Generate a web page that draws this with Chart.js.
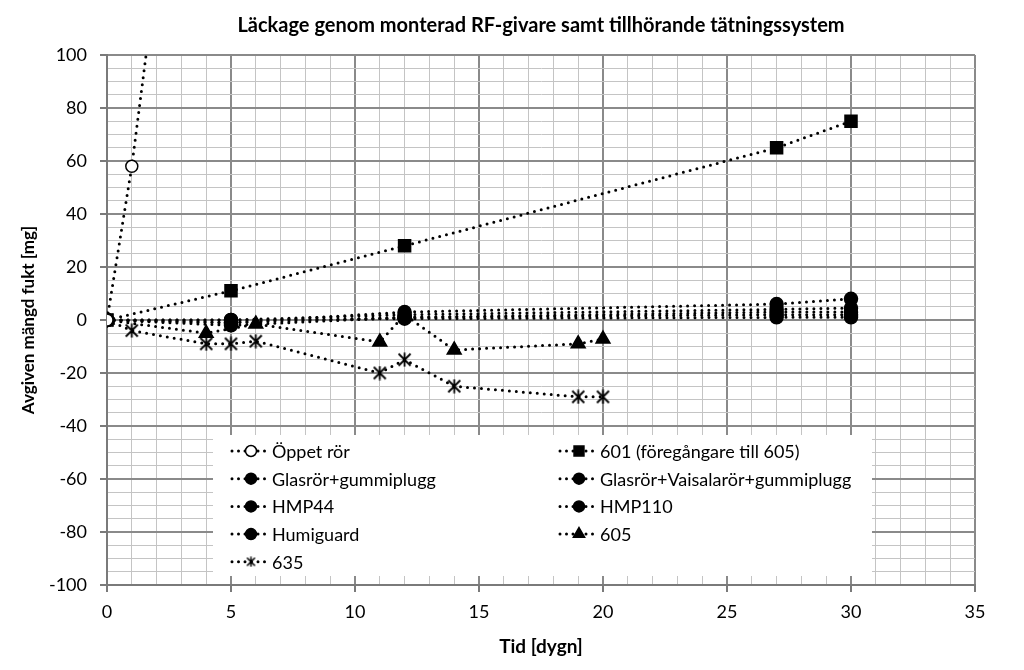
<!DOCTYPE html>
<html>
<head>
<meta charset="utf-8">
<script src="https://cdn.jsdelivr.net/npm/chart.js@4.4.1/dist/chart.umd.min.js"></script>
<style>
  html, body { margin: 0; padding: 0; background: #fff; }
</style>
</head>
<body>
<canvas id="leakChart" width="1024" height="670"></canvas>
<script>
////Series names (legend order)
const SERIES_NAMES = ["Öppet rör", "601 (föregångare till 605)", "Glasrör+gummiplugg",
  "Glasrör+Vaisalarör+gummiplugg", "HMP44", "HMP110", "Humiguard", "605", "635"];

////Measured values: days and emitted moisture [mg]
const daysOppet = [0, 1, 2];
const fuktOppet = [0, 58, 131];

const days601 = [0, 5, 12, 27, 30];
const fukt601 = [0, 11, 28, 65, 75];

const daysSensors = [0, 5, 12, 27, 30];
const fuktGlas = [0, -1, 3, 6, 8];
const fuktGlasVaisala = [0, 0, 2, 4, 4.5];
const fuktHMP44 = [0, -1, 1, 3, 3];
const fuktHMP110 = [0, -2, 1, 2, 2];
const fuktHumiguard = [0, 0, 0.5, 1, 1];

const days605 = [0, 4, 6, 11, 12, 14, 19, 20];
const fukt605 = [0, -5, -1.5, -8.3, 2, -11.3, -9, -7.2];

const days635 = [0, 1, 4, 5, 6, 11, 12, 14, 19, 20];
const fukt635 = [0, -4, -9, -9, -8, -20, -15, -25, -29, -29];

////Axis ranges
const X_MIN = 0, X_MAX = 35, X_STEP = 1, X_LABEL_STEP = 5;
const Y_MIN = -100, Y_MAX = 100, Y_STEP = 5, Y_LABEL_STEP = 20;

const MAJOR_GRID = "#8a8a8a";
const MINOR_GRID = "#c4c4c4";
const FONT = "Lato, 'Open Sans', sans-serif";

//pair x and y arrays into points
function toPoints(xs, ys) {
    return xs.map((x, i) => ({ x: x, y: ys[i] }));
}

//asterisk-like marker (X with a vertical bar)
function makeStar(size, width) {
    let c = document.createElement("canvas");
    c.width = c.height = size;
    let g = c.getContext("2d");
    let m = 1.5, s = size - 1.5;
    g.strokeStyle = "#000";
    g.lineWidth = width;
    g.beginPath();
    g.moveTo(m, m); g.lineTo(s, s);
    g.moveTo(s, m); g.lineTo(m, s);
    g.moveTo(size / 2, 0.5); g.lineTo(size / 2, size - 0.5);
    g.stroke();
    return c;
}
const starBig = makeStar(15, 1.8);
const starSmall = makeStar(11, 1.5);

//common dotted line style
function series(label, points, style, radius, fill, legendStyle) {
    return {
        label: label,
        data: points,
        borderColor: "#000",
        backgroundColor: fill,
        borderWidth: 3,
        borderDash: [0, 7],
        borderCapStyle: "round",
        pointStyle: style,
        pointRadius: radius,
        pointBorderColor: "#000",
        pointBackgroundColor: fill,
        pointBorderWidth: 1.5,
        legendStyle: legendStyle || style,
        tension: 0
    };
}

const datasets = [
    series(SERIES_NAMES[0], toPoints(daysOppet, fuktOppet), "circle", 6, "#fff"),
    series(SERIES_NAMES[1], toPoints(days601, fukt601), "rect", 8.5, "#000"),
    series(SERIES_NAMES[2], toPoints(daysSensors, fuktGlas), "circle", 6.5, "#000"),
    series(SERIES_NAMES[3], toPoints(daysSensors, fuktGlasVaisala), "circle", 6.5, "#000"),
    series(SERIES_NAMES[4], toPoints(daysSensors, fuktHMP44), "circle", 6.5, "#000"),
    series(SERIES_NAMES[5], toPoints(daysSensors, fuktHMP110), "circle", 6.5, "#000"),
    series(SERIES_NAMES[6], toPoints(daysSensors, fuktHumiguard), "circle", 6.5, "#000"),
    series(SERIES_NAMES[7], toPoints(days605, fukt605), "triangle", 8, "#000"),
    series(SERIES_NAMES[8], toPoints(days635, fukt635), starBig, 7.5, "#000", starSmall)
];

///Legend drawn inside the plot area, two columns, on white
const insideLegend = {
    id: "insideLegend",
    afterDraw(chart) {
        let ctx = chart.ctx;
        let a = chart.chartArea;
        let box = { left: a.left + 106, top: a.top + 380, right: a.right - 103, bottom: a.bottom - 9 };
        ctx.save();
        ctx.fillStyle = "#fff";
        ctx.fillRect(box.left, box.top, box.right - box.left, box.bottom - box.top);
        ctx.font = "18px " + FONT;
        ctx.textBaseline = "middle";
        chart.data.datasets.forEach((ds, i) => {
            let col = i % 2, row = Math.floor(i / 2);
            let sx = box.left + 17 + col * 328;
            let sy = box.top + 16 + row * 27.7;
            //dotted line segment
            ctx.strokeStyle = "#000";
            ctx.lineWidth = 3;
            ctx.lineCap = "round";
            ctx.setLineDash([0, 6.5]);
            ctx.beginPath();
            ctx.moveTo(sx + 2, sy);
            ctx.lineTo(sx + 40, sy);
            ctx.stroke();
            ctx.setLineDash([]);
            //marker
            ctx.fillStyle = ds.pointBackgroundColor;
            ctx.strokeStyle = "#000";
            ctx.lineWidth = 1.5;
            let r = ds.legendStyle === "rect" ? 7 : (ds.legendStyle === "triangle" ? 6.5 : 5.5);
            Chart.helpers.drawPoint(ctx, { pointStyle: ds.legendStyle, radius: r, rotation: 0, borderWidth: 1.5 }, sx + 21, sy);
            //label
            ctx.fillStyle = "#000";
            ctx.textAlign = "left";
            ctx.fillText(ds.label, sx + 42, sy + 1);
        });
        ctx.restore();
    }
};

let ctx = document.getElementById("leakChart").getContext("2d");
let leakChart = new Chart(ctx, {
    type: "line",
    data: { datasets: datasets },
    plugins: [insideLegend],
    options: {
        responsive: false,
        animation: false,
        events: [],
        layout: { padding: { left: 0, right: 49, top: 0, bottom: 0 } },
        plugins: {
            legend: { display: false },
            tooltip: { enabled: false },
            title: {
                display: true,
                text: "Läckage genom monterad RF-givare samt tillhörande tätningssystem",
                fullSize: false,
                color: "#000",
                font: { family: FONT, size: 20, weight: "bold" },
                padding: { top: 14, bottom: 17 }
            }
        },
        scales: {
            x: {
                type: "linear",
                min: X_MIN,
                max: X_MAX,
                afterFit: (scale) => { scale.height = 85; },
                afterBuildTicks: (scale) => {
                    scale.ticks = [];
                    for (let v = X_MIN; v <= X_MAX; v += X_STEP) scale.ticks.push({ value: v });
                },
                ticks: {
                    autoSkip: false,
                    maxRotation: 0,
                    padding: 9,
                    color: "#000",
                    font: { family: FONT, size: 18 },
                    callback: (v) => (v % X_LABEL_STEP === 0 ? String(v) : "")
                },
                grid: {
                    color: (c) => (c.tick && c.tick.value % X_LABEL_STEP === 0 ? MAJOR_GRID : MINOR_GRID),
                    lineWidth: (c) => (c.tick && c.tick.value % X_LABEL_STEP === 0 ? 2 : 1),
                    tickColor: (c) => (c.tick && c.tick.value % X_LABEL_STEP === 0 ? "#7a7a7a" : "rgba(0,0,0,0)"),
                    tickWidth: 2,
                    tickLength: 7
                },
                border: { display: true, color: "#7a7a7a", width: 2 },
                title: {
                    display: true,
                    text: "Tid [dygn]",
                    color: "#000",
                    font: { family: FONT, size: 19, weight: "bold" },
                    padding: { top: 12, bottom: 12 }
                }
            },
            y: {
                type: "linear",
                min: Y_MIN,
                max: Y_MAX,
                afterFit: (scale) => { scale.width = 107; },
                afterBuildTicks: (scale) => {
                    scale.ticks = [];
                    for (let v = Y_MIN; v <= Y_MAX; v += Y_STEP) scale.ticks.push({ value: v });
                },
                ticks: {
                    autoSkip: false,
                    padding: 13,
                    color: "#000",
                    font: { family: FONT, size: 18 },
                    callback: (v) => (v % Y_LABEL_STEP === 0 ? String(v) : "")
                },
                grid: {
                    color: (c) => (c.tick && c.tick.value % Y_LABEL_STEP === 0 ? MAJOR_GRID : MINOR_GRID),
                    lineWidth: (c) => (c.tick && c.tick.value % Y_LABEL_STEP === 0 ? 2 : 1),
                    tickColor: (c) => (c.tick && c.tick.value % Y_LABEL_STEP === 0 ? "#7a7a7a" : "rgba(0,0,0,0)"),
                    tickWidth: 2,
                    tickLength: 7
                },
                border: { display: true, color: "#7a7a7a", width: 2 },
                title: {
                    display: true,
                    text: "Avgiven mängd fukt [mg]",
                    color: "#000",
                    font: { family: FONT, size: 17, weight: "bold" },
                    padding: { top: 18, bottom: 18 }
                }
            }
        }
    }
});
</script>
</body>
</html>
